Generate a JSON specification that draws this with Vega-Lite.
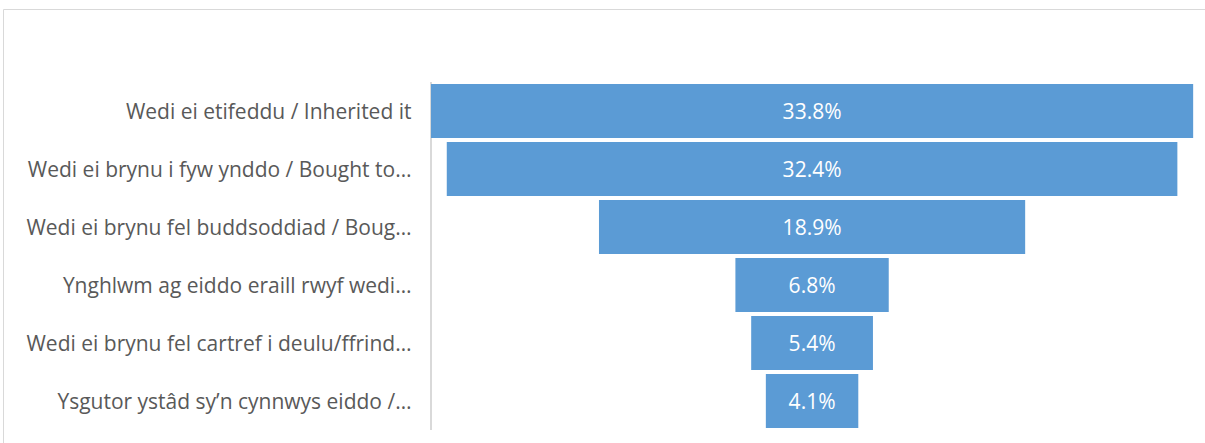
{
  "$schema": "https://vega.github.io/schema/vega-lite/v6.json",
  "width": 1210,
  "height": 445,
  "padding": {"left": 3, "top": 9, "right": 0, "bottom": 0},
  "autosize": {"type": "none"},
  "background": "white",
  "config": {
    "view": {"stroke": "#d9d9d9", "strokeWidth": 1},
    "font": "Open Sans"
  },
  "data": {
    "values": [
      {"cat": "Wedi ei etifeddu / Inherited it", "value": 0.338},
      {"cat": "Wedi ei brynu i fyw ynddo / Bought to…", "value": 0.324},
      {"cat": "Wedi ei brynu fel buddsoddiad / Boug…", "value": 0.189},
      {"cat": "Ynghlwm ag eiddo eraill rwyf wedi…", "value": 0.068},
      {"cat": "Wedi ei brynu fel cartref i deulu/ffrind…", "value": 0.054},
      {"cat": "Ysgutor ystâd sy’n cynnwys eiddo /…", "value": 0.041}
    ]
  },
  "transform": [
    {"stack": "value", "groupby": ["cat"], "offset": "center", "as": ["x0", "x1"]}
  ],
  "encoding": {
    "y": {
      "field": "cat",
      "type": "nominal",
      "sort": null,
      "scale": {"paddingInner": 0.069, "paddingOuter": 0.8707, "align": 0.7426},
      "axis": {
        "title": null,
        "offset": -428,
        "domain": false,
        "ticks": false,
        "labelPadding": 20,
        "labelOffset": 2,
        "labelFontSize": 21,
        "labelColor": "#595959",
        "labelFont": "Open Sans",
        "labelLimit": 500
      }
    }
  },
  "layer": [
    {
      "mark": {"type": "tick", "color": "#d9d9d9", "thickness": 2, "size": 58, "opacity": 1},
      "encoding": {
        "x": {"datum": 0, "type": "quantitative", "scale": {"domain": [-0.1898, 0.3468], "nice": false, "zero": false}, "axis": null}
      }
    },
    {
      "mark": {"type": "bar", "color": "#5b9bd5"},
      "encoding": {
        "x": {"field": "x0", "type": "quantitative", "scale": {"domain": [-0.1898, 0.3468], "nice": false, "zero": false}, "axis": null},
        "x2": {"field": "x1"}
      }
    },
    {
      "mark": {"type": "text", "color": "white", "fontSize": 21, "font": "Open Sans", "dy": 2},
      "encoding": {
        "x": {"datum": 0.169, "type": "quantitative", "axis": null},
        "text": {"field": "value", "type": "quantitative", "format": ".1%"}
      }
    }
  ]
}
